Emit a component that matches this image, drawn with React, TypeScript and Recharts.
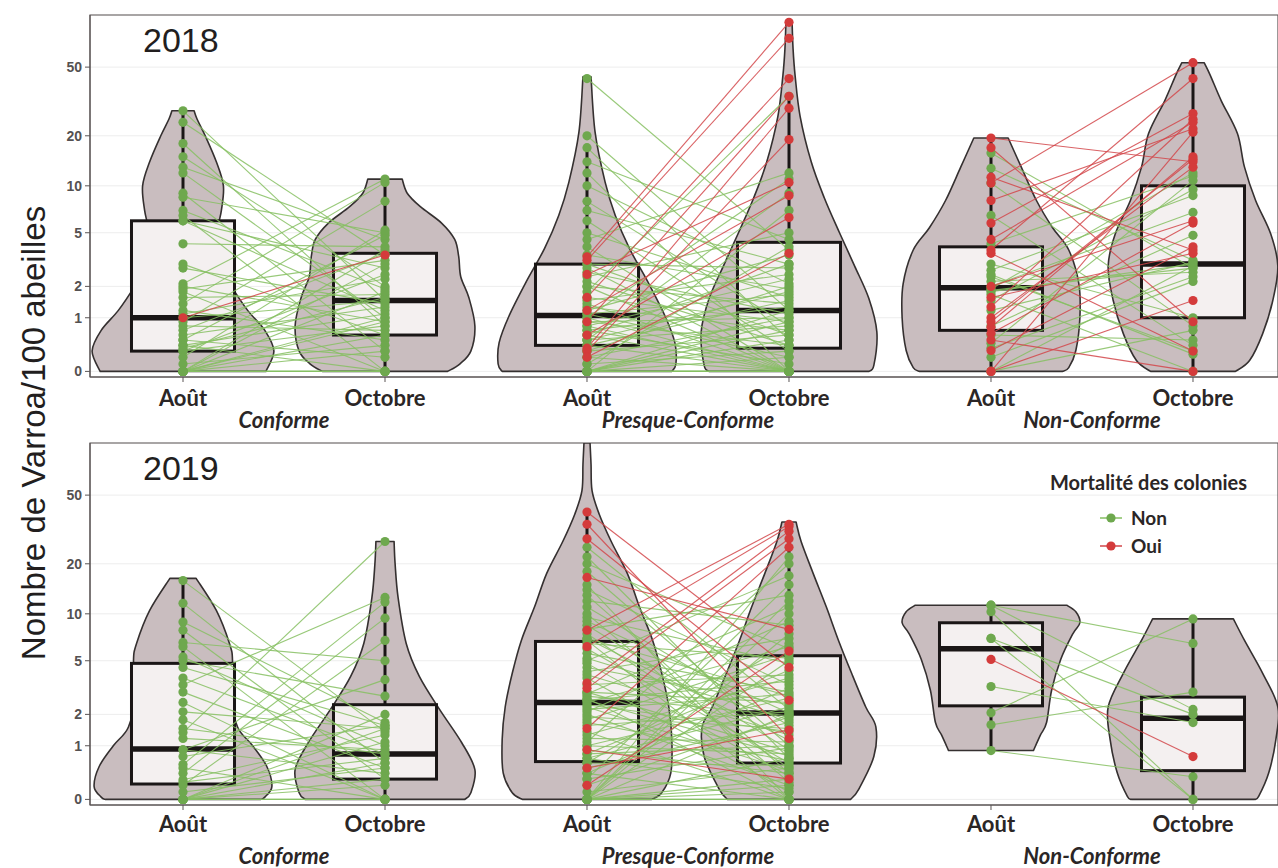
import React from 'react';
import { ComposedChart, Scatter, XAxis, YAxis, CartesianGrid, ReferenceArea } from 'recharts';

type Pair = [number, number, number];
type Profile = [number, number][];

// ---- axes / labels ----
const periodTicks = [1, 2, 3, 4, 5, 6];
const periodLabels = ['Août', 'Octobre', 'Août', 'Octobre', 'Août', 'Octobre'];
const groupTicks = [1.5, 3.5, 5.5];
const groupLabels = ['Conforme', 'Presque-Conforme', 'Non-Conforme'];
const yTicks = [0, 1, 2, 5, 10, 20, 50];
const legendTitle = 'Mortalité des colonies';
const legendItems = ['Non', 'Oui'];
const yTitle = 'Nombre de Varroa/100 abeilles';

// ---- paired colony values: [Août, Octobre, mortalité (1 = Oui)] ----
const conforme2018: Pair[] = [
  [28, 1.5, 0], [24, 3.5, 0], [18, 0.8, 0], [15, 2.0, 0], [13, 4.5, 0], [12, 1.0, 0], [9, 0.3, 0], [8.5, 5.0, 0],
  [7, 1.9, 0], [6.5, 0, 0], [6, 2.8, 0], [6, 1.2, 0], [4.2, 4.0, 0], [3, 0.6, 0], [2.8, 1.4, 0], [2.1, 11, 0],
  [2, 0.9, 0], [1.9, 3.2, 0], [1.8, 0, 0], [1.6, 1.7, 0], [1.4, 10.5, 0], [1.2, 0.5, 0], [1.1, 2.3, 0], [1.0, 3.5, 1],
  [1.0, 1.5, 0], [0.9, 8, 0], [0.8, 0.7, 0], [0.7, 3.6, 0], [0.6, 1.3, 0], [0.5, 0.2, 0], [0.5, 4.8, 0], [0.4, 1.1, 0],
  [0.4, 0, 0], [0.35, 1.6, 0], [0.3, 2.5, 0], [0.3, 0.8, 0], [0.2, 5.2, 0], [0.1, 0.4, 0], [0, 1.8, 0], [0, 0.6, 0],
  [0, 3.0, 0], [0, 0.3, 0], [0, 0, 0], [0, 1.0, 0], [0, 3.8, 0], [0, 0.9, 0], [0, 0, 0], [0, 0, 0],
];
const presque2018: Pair[] = [
  [3.4, 90, 1], [3.2, 73, 1], [1.6, 43, 1], [0.9, 34, 1], [0.35, 29, 1], [0.3, 19, 1], [2.5, 10.5, 1], [1.2, 8.7, 1],
  [0.6, 6.3, 1], [0.2, 3.6, 1],
  [43, 3.8, 0], [20, 1.2, 0], [17, 0.5, 0], [14, 4.5, 0], [12, 0, 0], [10, 2.1, 0], [8, 0.8, 0], [7, 3, 0], [6, 0.3, 0], [5, 1.6, 0],
  [4.5, 12, 0], [4, 0, 0], [3.5, 1.9, 0], [3, 0.6, 0], [3, 2.8, 0], [2.8, 0, 0], [2.6, 1.1, 0], [2.4, 5, 0], [2.2, 0.4, 0], [2, 1.4, 0],
  [2, 0, 0], [1.8, 34, 0], [1.6, 0.9, 0], [1.5, 2.5, 0], [1.4, 0, 0], [1.3, 0.7, 0], [1.2, 3.5, 0], [1.1, 0.2, 0], [1.1, 1.7, 0], [1.0, 0, 0],
  [1.0, 11, 0], [0.9, 1.0, 0], [0.9, 0.4, 0], [0.8, 2.3, 0], [0.8, 0, 0], [0.7, 1.3, 0], [0.7, 0.1, 0], [0.6, 3, 0], [0.6, 0, 0], [0.5, 1.8, 0],
  [0.5, 0.8, 0], [0.5, 9, 0], [0.4, 0, 0], [0.4, 1.5, 0], [0.3, 0.6, 0], [0.3, 2, 0], [0.2, 0, 0], [0.2, 1.0, 0], [0.1, 4, 0], [0.1, 0.3, 0],
  [0, 7, 0], [0, 0, 0], [0, 1.2, 0], [0, 0.5, 0], [0, 0, 0], [0, 0.9, 0], [0, 0, 0], [0, 0.7, 0], [0, 0, 0], [0, 0.2, 0],
];
const nonConforme2018: Pair[] = [
  [19.4, 14, 1], [17, 0.9, 1], [11.3, 3.8, 1], [10.4, 53, 1], [8.1, 22, 1], [5.8, 27, 1], [3.8, 43, 1], [3.6, 0.3, 1],
  [1.3, 25, 1], [1.0, 13, 1], [0.77, 15, 1], [0.63, 5.8, 1], [0.31, 4.0, 1], [0, 21, 1], [0, 1.5, 1], [2.0, 6, 1],
  [0.5, 0, 1], [1.6, 3.6, 1], [0.9, 14.5, 1], [4.5, 24, 1],
  [15.8, 2.8, 0], [12.8, 3.2, 0], [10.4, 0.8, 0], [4.2, 11.5, 0], [2.7, 8.7, 0], [2.4, 0.3, 0], [1.85, 2.8, 0], [2.0, 6.8, 0],
  [1.9, 12, 0], [1.8, 3, 0], [1.7, 0, 0], [2.2, 2.6, 0], [3.0, 1.0, 0], [0.44, 10.8, 0], [0.35, 2.4, 0], [0.6, 0.5, 0],
  [0, 2.9, 0], [0, 0.7, 0], [1.2, 3.1, 0], [2.5, 0.25, 0], [0.8, 4.8, 0], [0.2, 2.2, 0], [6.5, 0.4, 0], [1.5, 9.5, 0],
];
const conforme2019: Pair[] = [
  [15.9, 1.4, 0], [11.6, 0.6, 0], [8.9, 1.7, 0], [7.9, 0.3, 0], [6.6, 5.0, 0], [6.2, 0, 0], [5.3, 1.0, 0], [5.0, 2.8, 0],
  [3.8, 0.8, 0], [3.4, 12.6, 0], [3.0, 0.5, 0], [2.1, 1.5, 0], [1.8, 0, 0], [1.37, 27, 0], [1.2, 0.9, 0], [0.9, 3.7, 0],
  [0.9, 0.4, 0], [0.74, 1.6, 0], [0.57, 11.8, 0], [0.5, 0, 0], [0.4, 9.4, 0], [0.29, 1.3, 0], [0.25, 0.7, 0], [0.2, 6.8, 0],
  [0, 1.5, 0], [0, 0.3, 0], [0, 0, 0], [0, 2.0, 0], [0, 0.6, 0], [0, 1.1, 0], [0, 0.2, 0], [0, 0, 0],
  [1.5, 0.8, 0], [4.5, 1.6, 0], [2.5, 0, 0], [0.1, 0.5, 0],
];
const presque2019: Pair[] = [
  [40, 4.5, 1], [34, 1.2, 1], [28, 2.6, 1], [16.6, 8, 1], [7.9, 34, 1], [6.2, 33, 1], [3.5, 31, 1], [3.2, 28, 1],
  [1.5, 25, 1], [0.9, 0.3, 1], [0.5, 1.45, 1], [0.2, 5.8, 1],
  [25, 2.2, 0], [22, 0.7, 0], [20, 6, 0], [18, 1.0, 0], [15, 0, 0], [14, 3.4, 0], [13, 0.4, 0], [12, 8.5, 0], [11, 1.6, 0], [10, 0.25, 0],
  [9.5, 4.8, 0], [9, 2.05, 0], [8.5, 0.9, 0], [8, 13, 0], [7.5, 0.5, 0], [7, 2.8, 0], [7, 1.15, 0], [6.8, 0, 0], [6.5, 5.2, 0], [6, 0.6, 0],
  [5.6, 3.0, 0], [5.2, 1.8, 0], [5, 17, 0], [4.8, 0.35, 0], [4.5, 2.4, 0], [4.2, 7, 0], [4, 1.3, 0], [3.8, 0.1, 0], [3.4, 4, 0], [3, 2.5, 0],
  [3, 0.85, 0], [2.9, 11, 0], [2.8, 1.95, 0], [2.7, 0, 0], [2.6, 3.6, 0], [2.6, 0.75, 0], [2.5, 6.2, 0], [2.4, 1.4, 0], [2.3, 0.45, 0], [2.2, 2.9, 0],
  [2.1, 9, 0], [2, 0.2, 0], [1.9, 1.5, 0], [1.8, 5.5, 0], [1.7, 0.65, 0], [1.6, 2.1, 0], [1.4, 0, 0], [1.3, 3.8, 0], [1.2, 1.1, 0], [1.1, 20, 0],
  [1.0, 0.8, 0], [1.0, 2.7, 0], [0.9, 0.4, 0], [0.8, 4.3, 0], [0.8, 1.0, 0], [0.7, 0.15, 0], [0.7, 2.3, 0], [0.6, 6.5, 0], [0.6, 0.55, 0], [0.5, 1.7, 0],
  [0.4, 0, 0], [0.4, 3.2, 0], [0.3, 0.95, 0], [0.3, 15, 0], [0.2, 1.9, 0], [0.1, 0.5, 0], [0, 2.0, 0], [0, 0.7, 0], [0, 7.5, 0], [0, 0, 0],
  [0, 10, 0], [0, 0.3, 0], [0, 5, 0], [0, 0.2, 0], [0, 12, 0], [0, 22, 0], [0, 0.1, 0], [0, 0, 0],
];
const nonConforme2019: Pair[] = [
  [11.3, 6.5, 0], [11.3, 2.2, 0], [10.3, 0, 0], [7.0, 2.0, 0], [7.0, 0, 0], [5.1, 0.74, 1], [3.3, 1.7, 0], [2.06, 9.3, 0],
  [1.62, 3.0, 0], [0.88, 0.34, 0],
];

// ---- boxplot stats per position: [lower whisker, Q1, median, Q3, upper whisker] ----
const boxes2018 = [
  [0, 0.3, 1.0, 6.0, 28], [0, 0.6, 1.5, 3.6, 11], [0, 0.4, 1.06, 3.0, 17],
  [0, 0.35, 1.2, 4.3, 34], [0, 0.7, 1.95, 4.0, 19.4], [0, 1.0, 3.0, 10, 53],
];
const boxes2019 = [
  [0, 0.22, 0.92, 4.8, 16], [0, 0.3, 0.8, 2.4, 12.6], [0, 0.63, 2.5, 6.7, 40],
  [0, 0.6, 2.05, 5.4, 34], [0.88, 2.35, 6.0, 8.8, 11.3], [0, 0.45, 1.85, 2.75, 9.3],
];

// ---- violin profiles: [value, half-width in category units] ----
const violins2018: Profile[] = [
  [[0, .41], [.3, .45], [.7, .405], [1.2, .32], [2, .24], [3, .18], [5, .17], [7, .19], [10, .2], [14, .165], [20, .11], [25, .07], [28, .055]],
  [[0, .31], [.1, .37], [.3, .425], [.8, .445], [1.6, .415], [2.4, .375], [3.4, .365], [4.5, .345], [5.8, .28], [7.4, .175], [9, .11], [11, .085]],
  [[0, .42], [.1, .44], [.45, .435], [1.06, .385], [2.2, .3], [3.9, .21], [6.5, .14], [10.5, .09], [21, .04], [44, .02]],
  [[0, .395], [.08, .42], [.66, .435], [1.57, .395], [2.9, .325], [5, .25], [8.4, .175], [14, .11], [26, .055], [45, .03], [64, .02], [92, .015]],
  [[0, .355], [.05, .385], [.31, .42], [1, .44], [2.1, .435], [3.8, .385], [5.4, .305], [8.1, .225], [13, .15], [19.4, .085]],
  [[0, .21], [.15, .28], [.63, .345], [1.5, .395], [2.9, .42], [4.9, .385], [8.1, .31], [13, .255], [20.6, .22], [32, .14], [45, .085], [53, .055]],
];
const violins2019: Profile[] = [
  [[0, .385], [.03, .405], [.18, .44], [.53, .415], [1, .345], [1.55, .27], [2.95, .235], [5, .245], [6.5, .23], [10.5, .165], [16.4, .065]],
  [[0, .395], [.09, .425], [.47, .445], [1.08, .38], [2.2, .27], [3.9, .17], [6.5, .105], [12.5, .065], [20, .05], [27, .045]],
  [[0, .32], [.09, .37], [.41, .415], [1.16, .42], [2.3, .405], [4.1, .37], [6.8, .325], [11, .26], [17.5, .2], [27, .12], [39, .06], [53, .025], [75, .02], [99, .015]],
  [[0, .305], [.14, .345], [.74, .42], [1.55, .43], [2.3, .38], [4.1, .31], [6.8, .245], [11, .185], [17.5, .12], [27, .06], [35, .035]],
  [[.88, .21], [1.3, .245], [1.7, .275], [3.1, .3], [5.1, .345], [7.5, .405], [8.8, .44], [10.3, .42], [11.3, .375]],
  [[0, .305], [.04, .325], [.41, .375], [1.16, .41], [2.3, .42], [4.1, .345], [6.8, .255], [9.3, .2]],
];

// ---- styling ----
const X_DOMAIN: [number, number] = [0.5396, 6.4208];
const Y_DOMAIN: [number, number] = [-0.075, 99];
const BOX_HALF = 0.255;
const GREEN = '#6ea84e';
const RED = '#d43b3b';
const GREEN_LINE = '#86bf62';
const RED_LINE = '#d2464a';
const VIOLIN_FILL = '#c9bdbf';
const BOX_FILL = '#f4f0f0';
const TEXT = '#2b2626';

type Pt = { x: number; y: number };

function smooth(P: Pt[]) {
  let s = '';
  for (let i = 0; i < P.length - 1; i++) {
    const p0 = P[Math.max(i - 1, 0)], p1 = P[i], p2 = P[i + 1], p3 = P[Math.min(i + 2, P.length - 1)];
    const c1x = p1.x + (p2.x - p0.x) / 6, c1y = p1.y + (p2.y - p0.y) / 6;
    const c2x = p2.x - (p3.x - p1.x) / 6, c2y = p2.y - (p3.y - p1.y) / 6;
    s += `C${c1x},${c1y} ${c2x},${c2y} ${p2.x},${p2.y}`;
  }
  return s;
}

const hidden = () => <g />;

const violinLine = (props: any) => {
  const pts: Pt[] = props.points || [];
  const n = pts.length / 2;
  const R = pts.slice(0, n), L = pts.slice(n);
  if (!R.length) return <g />;
  const d = `M${R[0].x},${R[0].y}` + smooth(R) + `L${L[0].x},${L[0].y}` + smooth(L) + 'Z';
  return <path d={d} fill={VIOLIN_FILL} stroke="#353030" strokeWidth={1.6} strokeLinejoin="round" />;
};

const boxLine = (props: any) => {
  const pts: Pt[] = props.points || [];
  const out: any[] = [];
  for (let i = 0; i + 4 < pts.length; i += 5) {
    const [lo, hi, med, wLo, wHi] = pts.slice(i, i + 5);
    out.push(
      <g key={i}>
        <line x1={med.x} x2={med.x} y1={hi.y} y2={wHi.y} stroke="#1a1616" strokeWidth={3} />
        <line x1={med.x} x2={med.x} y1={lo.y} y2={wLo.y} stroke="#1a1616" strokeWidth={3} />
        <rect x={lo.x} y={hi.y} width={hi.x - lo.x} height={lo.y - hi.y} fill={BOX_FILL} stroke="#1a1616" strokeWidth={3} />
        <line x1={lo.x} x2={hi.x} y1={med.y} y2={med.y} stroke="#1a1616" strokeWidth={5.5} />
      </g>
    );
  }
  return <g>{out}</g>;
};

const pairLine = (color: string, width: number, opacity: number) => (props: any) => {
  const pts: Pt[] = props.points || [];
  const out: any[] = [];
  for (let i = 0; i + 1 < pts.length; i += 2) {
    out.push(<line key={i} x1={pts[i].x} y1={pts[i].y} x2={pts[i + 1].x} y2={pts[i + 1].y} stroke={color} strokeWidth={width} strokeOpacity={opacity} />);
  }
  return <g>{out}</g>;
};

const dot = (color: string) => (p: any) => <circle cx={p.cx} cy={p.cy} r={4.6} fill={color} />;

function outline(center: number, prof: Profile) {
  const right = prof.map(([v, w]) => ({ x: center + w, y: v }));
  const left = prof.slice().reverse().map(([v, w]) => ({ x: center - w, y: v }));
  return [...right, ...left];
}

function pairData(groups: Pair[][], dead: number) {
  const out: Pt[] = [];
  groups.forEach((pairs, g) => {
    pairs.forEach(([a, o, d]) => {
      if (d === dead) out.push({ x: 2 * g + 1, y: a }, { x: 2 * g + 2, y: o });
    });
  });
  return out;
}

function Panel({ groups, boxes, violins, periodDy, groupDy }: any) {
  const boxData = boxes.flatMap((b: number[], i: number) => [
    { x: i + 1 - BOX_HALF, y: b[1] }, { x: i + 1 + BOX_HALF, y: b[3] }, { x: i + 1, y: b[2] },
    { x: i + 1, y: b[0] }, { x: i + 1, y: b[4] },
  ]);
  const alive = pairData(groups, 0);
  const dead = pairData(groups, 1);
  return (
    <ComposedChart width={1278} height={440} margin={{ top: 15, right: 0, bottom: 0, left: 0 }}>
      <CartesianGrid vertical={false} stroke="#ededed" />
      <XAxis dataKey="x" type="number" domain={X_DOMAIN} allowDataOverflow ticks={periodTicks} interval={0}
        height={30} tickSize={5} tickMargin={2} axisLine={{ stroke: '#5a5555' }} tickLine={{ stroke: '#5a5555' }}
        tick={(p: any) => (
          <text x={p.x} y={p.y + periodDy} textAnchor="middle" fontFamily="Lato" fontWeight={700} fontSize={22} fill={TEXT}>
            {periodLabels[periodTicks.indexOf(p.payload.value)]}
          </text>
        )} />
      <XAxis xAxisId="g" dataKey="x" type="number" domain={X_DOMAIN} allowDataOverflow ticks={groupTicks} interval={0}
        height={33} tickSize={0} tickMargin={0} axisLine={false} tickLine={false}
        tick={(p: any) => (
          <text x={p.x} y={p.y + groupDy} textAnchor="middle" fontFamily="Lato" fontWeight={700} fontStyle="italic" fontSize={22} fill={TEXT}>
            {groupLabels[groupTicks.indexOf(p.payload.value)]}
          </text>
        )} />
      <YAxis dataKey="y" type="number" scale="symlog" domain={Y_DOMAIN} allowDataOverflow ticks={yTicks} interval={0}
        width={90} tickSize={5} tickMargin={3} axisLine={{ stroke: '#5a5555' }} tickLine={{ stroke: '#5a5555' }}
        tick={{ fill: '#555151', fontSize: 14, fontWeight: 700, fontFamily: 'Liberation Sans' }} />
      {violins.map((prof: Profile, i: number) => (
        <Scatter key={'v' + i} data={outline(i + 1, prof)} line={violinLine} shape={hidden} isAnimationActive={false} legendType="none" />
      ))}
      <Scatter data={boxData} line={boxLine} shape={hidden} isAnimationActive={false} legendType="none" />
      <Scatter data={alive} line={pairLine(GREEN_LINE, 1.1, 0.85)} shape={hidden} isAnimationActive={false} legendType="none" />
      <Scatter data={dead} line={pairLine(RED_LINE, 1.1, 0.85)} shape={hidden} isAnimationActive={false} legendType="none" />
      <Scatter data={alive} shape={dot(GREEN)} isAnimationActive={false} legendType="none" />
      <Scatter data={dead} shape={dot(RED)} isAnimationActive={false} legendType="none" />
      <ReferenceArea x1={X_DOMAIN[0]} x2={X_DOMAIN[1]} y1={Y_DOMAIN[0]} y2={Y_DOMAIN[1]} fill="none" fillOpacity={0} stroke="#5a5555" strokeWidth={1.2} />
    </ComposedChart>
  );
}

export default function App() {
  return (
    <div style={{ position: 'absolute', left: 0, top: 0, width: 1278, height: 868, background: '#fff', overflow: 'hidden' }}>
      <div style={{ position: 'absolute', left: 0, top: 0 }}>
        <Panel groups={[conforme2018, presque2018, nonConforme2018]} boxes={boxes2018} violins={violins2018} periodDy={22} groupDy={21} />
      </div>
      <div style={{ position: 'absolute', left: 0, top: 428 }}>
        <Panel groups={[conforme2019, presque2019, nonConforme2019]} boxes={boxes2019} violins={violins2019} periodDy={20} groupDy={29} />
      </div>
      <svg width={1278} height={868} style={{ position: 'absolute', left: 0, top: 0, pointerEvents: 'none' }}>
        <text x={143} y={52} fontFamily="Liberation Sans" fontSize={34} fill="#221e1e">2018</text>
        <text x={143} y={480} fontFamily="Liberation Sans" fontSize={34} fill="#221e1e">2019</text>
        <text transform="translate(45,433) rotate(-90)" textAnchor="middle" fontFamily="Liberation Sans" fontSize={33} fill="#221e1e">{yTitle}</text>
        <text x={1050} y={490} fontFamily="Lato" fontWeight={700} fontSize={20} fill={TEXT}>{legendTitle}</text>
        {legendItems.map((t, i) => (
          <g key={t}>
            <line x1={1100} x2={1122} y1={518 + i * 28} y2={518 + i * 28} stroke={i ? RED_LINE : GREEN_LINE} strokeWidth={1.5} />
            <circle cx={1111} cy={518 + i * 28} r={4.6} fill={i ? RED : GREEN} />
            <text x={1131} y={525 + i * 28} fontFamily="Lato" fontWeight={700} fontSize={19} fill={TEXT}>{t}</text>
          </g>
        ))}
      </svg>
    </div>
  );
}
